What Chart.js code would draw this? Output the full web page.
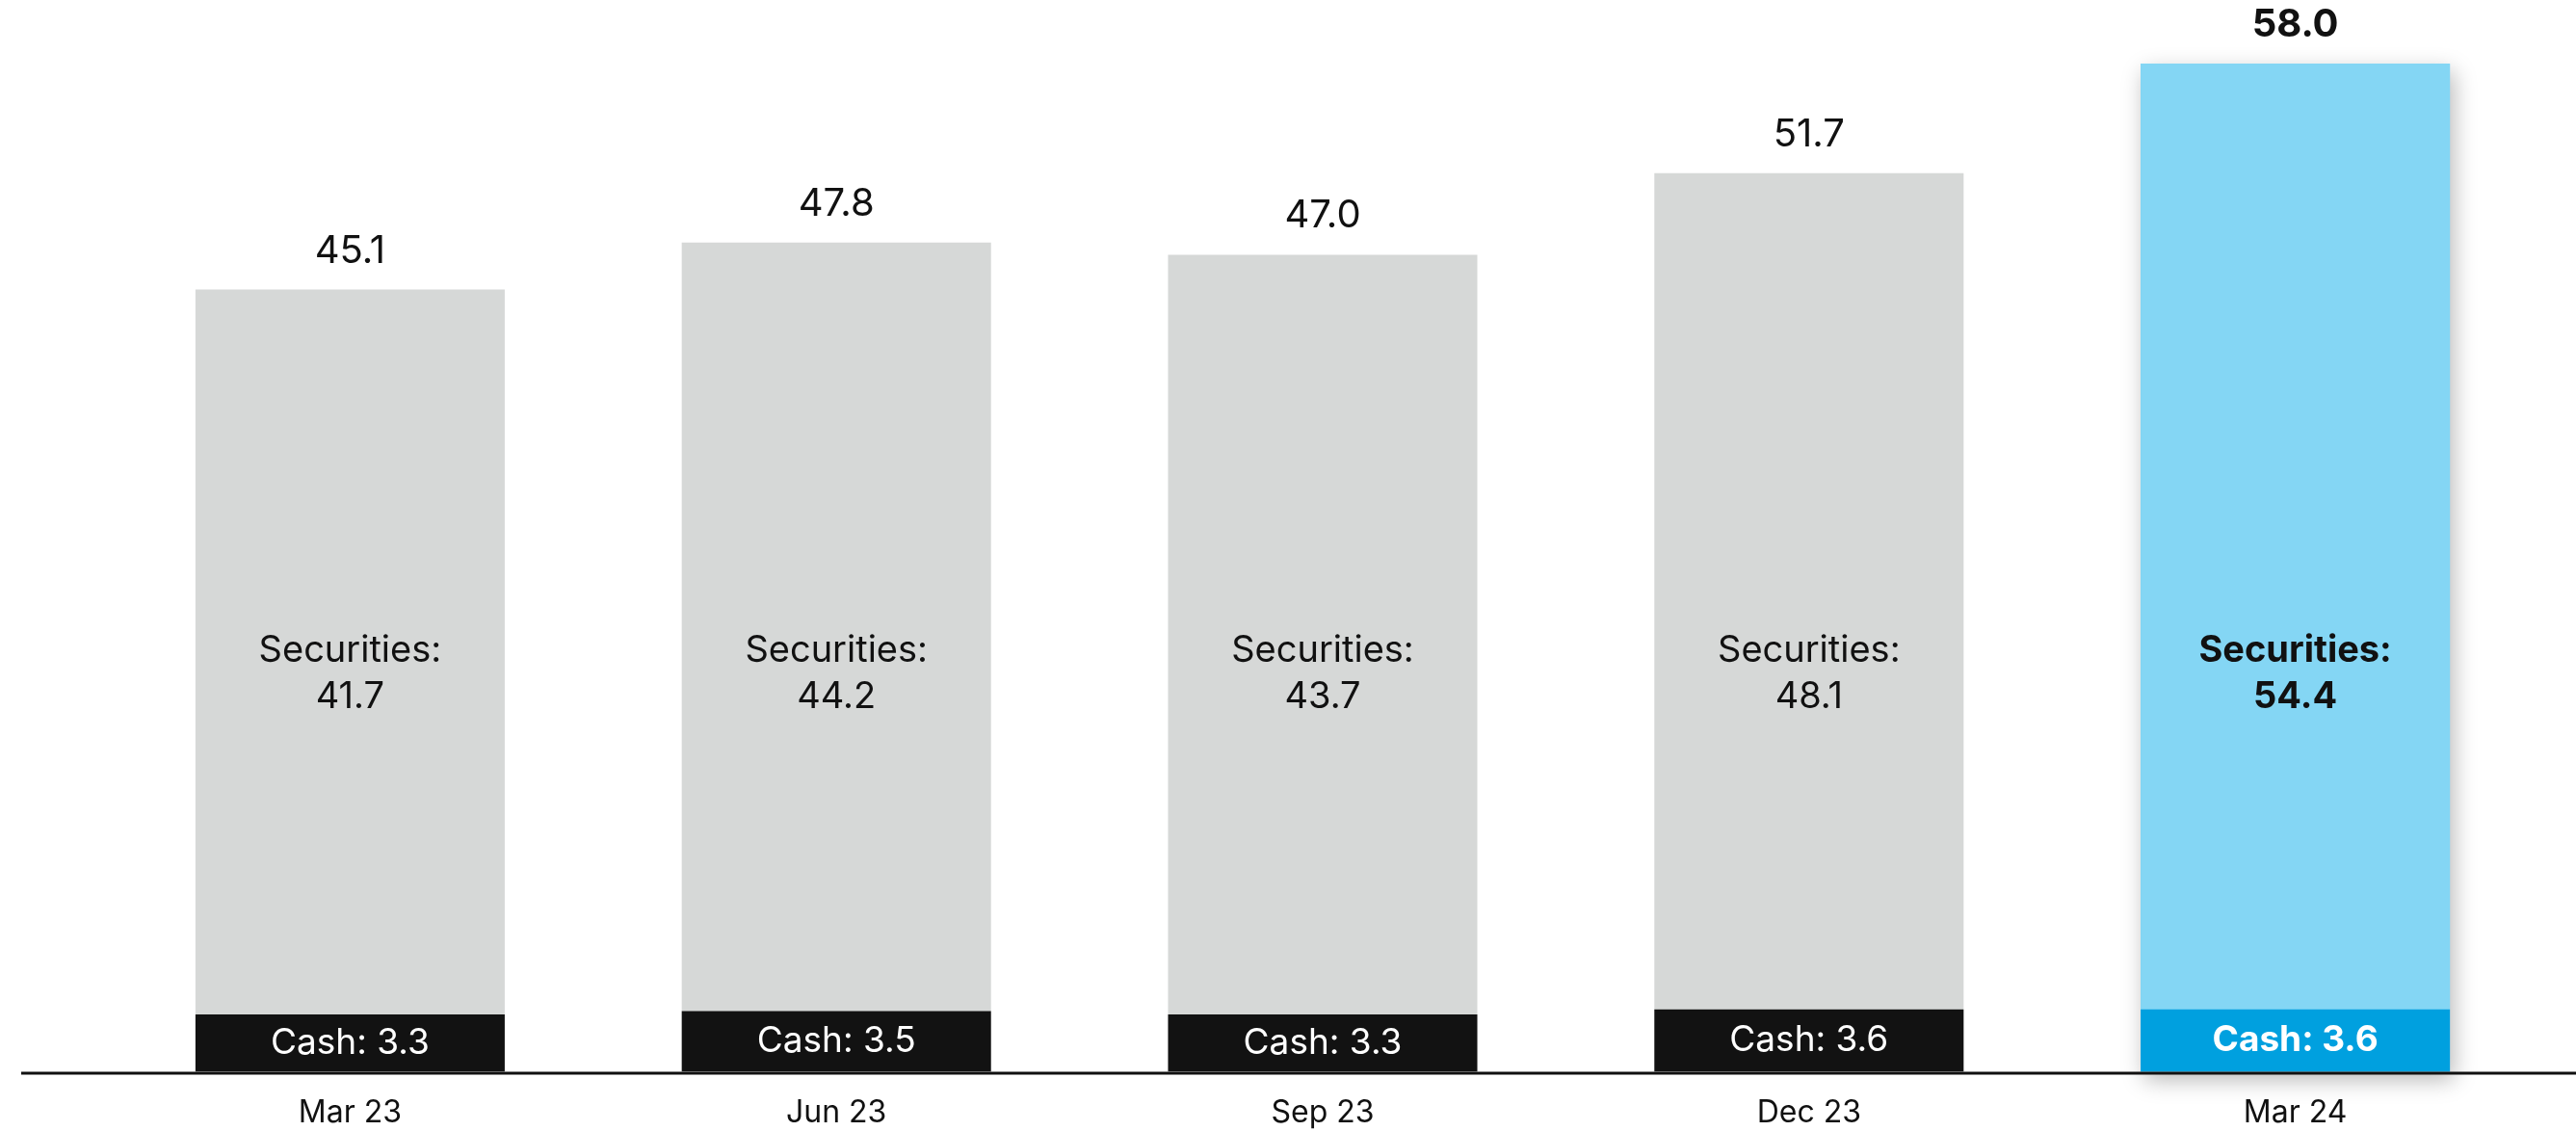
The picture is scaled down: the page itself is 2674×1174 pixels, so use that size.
<!DOCTYPE html>
<html>
<head>
<meta charset="utf-8">
<script src="https://cdn.jsdelivr.net/npm/chart.js@4/dist/chart.umd.min.js"></script>
<style>
  html, body { margin: 0; padding: 0; background: #ffffff; }
  canvas { display: block; }
</style>
</head>
<body>
<canvas id="chart" width="2674" height="1174"></canvas>
<script>
// Quarter-end balances, split into cash and securities
const quarters   = ['Mar 23', 'Jun 23', 'Sep 23', 'Dec 23', 'Mar 24'];
const cash       = [3.3, 3.5, 3.3, 3.6, 3.6];
const securities = [41.7, 44.2, 43.7, 48.1, 54.4];
const totals     = [45.1, 47.8, 47.0, 51.7, 58.0];
const highlightIndex = 4;          // latest quarter is emphasised
const securitiesLabelLevel = 22.9; // value on the y scale where the securities captions sit

const FONT = 'Inter, "Noto Sans", "DejaVu Sans", sans-serif';
const INK = '#111111';

const cashColors = quarters.map((_, i) => i === highlightIndex ? '#00A0DF' : '#121212');
const secColors  = quarters.map((_, i) => i === highlightIndex ? '#84D6F4' : '#D6D8D7');

// soft shadow behind the highlighted column
const shadowPlugin = {
  id: 'highlightShadow',
  beforeDatasetsDraw(chart) {
    const top = chart.getDatasetMeta(1).data[highlightIndex];
    const bottom = chart.getDatasetMeta(0).data[highlightIndex];
    if (!top || !bottom) return;
    const ctx = chart.ctx;
    const w = top.width;
    ctx.save();
    ctx.shadowColor = 'rgba(0,0,0,0.28)';
    ctx.shadowBlur = 22;
    ctx.shadowOffsetX = 4;
    ctx.shadowOffsetY = 8;
    ctx.fillStyle = '#84D6F4';
    ctx.fillRect(top.x - w / 2, top.y, w, bottom.base - top.y);
    ctx.restore();
  }
};

// baseline rule, totals above the stacks, captions inside the segments
const labelPlugin = {
  id: 'stackLabels',
  afterDatasetsDraw(chart) {
    const ctx = chart.ctx;
    const cashMeta = chart.getDatasetMeta(0);
    const secMeta = chart.getDatasetMeta(1);
    const yScale = chart.scales.y;
    const area = chart.chartArea;

    ctx.save();
    ctx.strokeStyle = INK;
    ctx.lineWidth = 3;
    ctx.beginPath();
    ctx.moveTo(22, area.bottom + 1.5);
    ctx.lineTo(chart.width, area.bottom + 1.5);
    ctx.stroke();

    ctx.textAlign = 'center';
    quarters.forEach((q, i) => {
      const bold = i === highlightIndex;
      const weight = bold ? '700 ' : '400 ';
      const secEl = secMeta.data[i];
      const cashEl = cashMeta.data[i];

      // total above the column
      ctx.fillStyle = INK;
      ctx.textBaseline = 'alphabetic';
      ctx.font = weight + '40px ' + FONT;
      ctx.fillText(totals[i].toFixed(1), secEl.x, secEl.y - 28);

      // securities caption
      const yMid = yScale.getPixelForValue(securitiesLabelLevel);
      ctx.textBaseline = 'middle';
      ctx.font = weight + '38px ' + FONT;
      ctx.fillText('Securities:', secEl.x, yMid - 24);
      ctx.fillText(securities[i].toFixed(1), secEl.x, yMid + 24);

      // cash caption
      ctx.fillStyle = '#FFFFFF';
      ctx.font = weight + '37px ' + FONT;
      ctx.fillText('Cash: ' + cash[i].toFixed(1), cashEl.x, (cashEl.y + cashEl.base) / 2);
    });
    ctx.restore();
  }
};

new Chart(document.getElementById('chart'), {
  type: 'bar',
  data: {
    labels: quarters,
    datasets: [
      { label: 'Cash', data: cash, backgroundColor: cashColors, borderWidth: 0 },
      { label: 'Securities', data: securities, backgroundColor: secColors, borderWidth: 0 }
    ]
  },
  options: {
    responsive: false,
    animation: false,
    devicePixelRatio: 1,
    layout: { padding: { left: 111, right: 39, top: 1, bottom: 0 } },
    datasets: { bar: { barPercentage: 0.636, categoryPercentage: 1.0 } },
    plugins: { legend: { display: false }, tooltip: { enabled: false } },
    scales: {
      x: {
        stacked: true,
        grid: { display: false, drawTicks: false },
        border: { display: false },
        ticks: { color: INK, font: { family: FONT, size: 32 }, padding: 24 },
        afterFit(scale) { scale.height -= 25; }
      },
      y: {
        stacked: true,
        display: false,
        min: 0,
        max: 61.6
      }
    }
  },
  plugins: [shadowPlugin, labelPlugin]
});
</script>
</body>
</html>
